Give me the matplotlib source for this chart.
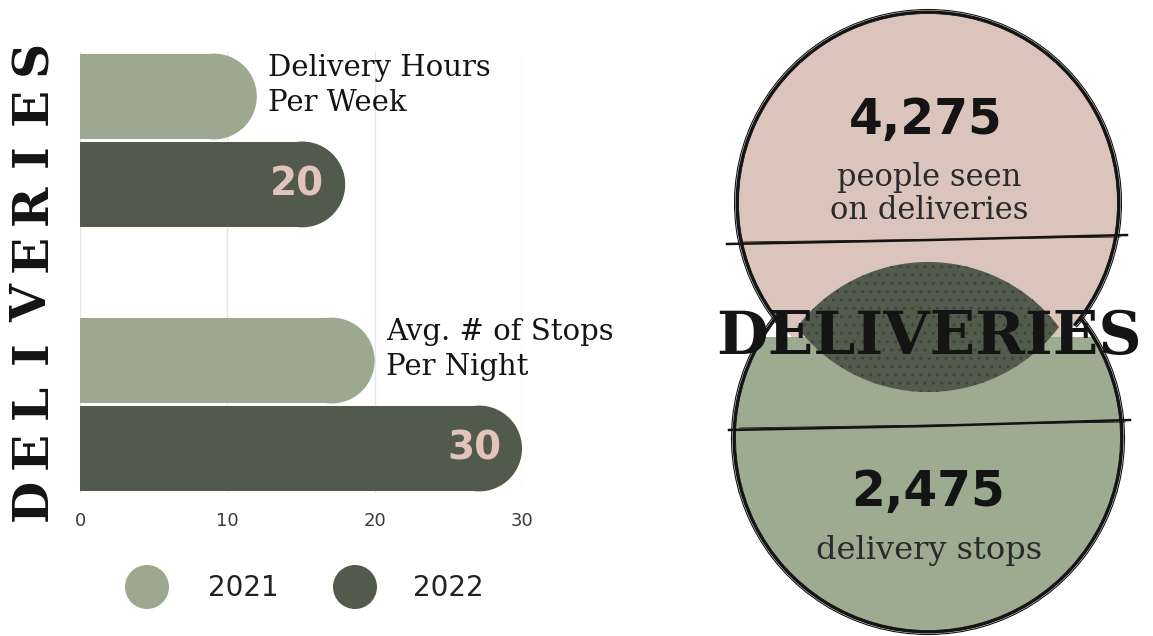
import numpy as np
import matplotlib.pyplot as plt
from matplotlib.patches import Ellipse, Circle, Arc, Rectangle

# ----- data -----
metrics = ['Delivery Hours\nPer Week', 'Avg. # of Stops\nPer Night']
years = ['2021', '2022']
values_2021 = [12, 20]
values_2022 = [18, 30]
labels_2022 = ['20', '30']
x_ticks = [0, 10, 20, 30]

people_seen = '4,275'
people_text = 'people seen\non deliveries'
stops_count = '2,475'
stops_text = 'delivery stops'
title = 'DELIVERIES'

# ----- colours -----
light = '#9ca88f'
dark = '#525a4b'
pink = '#dbc4bb'
pink_txt = '#e3c4ba'
ink = '#141414'

W, H = 1153, 636
fig = plt.figure(figsize=(W / 100, H / 100), dpi=100)

# overlay axes in pixel coordinates (y down) for the decorations
ov = fig.add_axes([0, 0, 1, 1])
ov.set_xlim(0, W)
ov.set_ylim(H, 0)
ov.axis('off')

# ----- bar chart -----
ax = fig.add_axes([80 / W, 1 - 493 / H, 442 / W, 441 / H])
ax.set_xlim(0, 30)
ax.set_ylim(1.335, -0.335)

h = 0.325
off = 0.1665
px_x = 442 / 30
px_y = 441 / 1.67
rx = (h * px_y / 2) / px_x   # radius of the rounded end, in x units

for i, metric in enumerate(metrics):
    for v, yy, c in [(values_2021[i], i - off, light), (values_2022[i], i + off, dark)]:
        ax.barh(yy, v - rx, height=h, color=c, lw=0, zorder=2)
        ax.add_patch(Ellipse((v - rx, yy), 2 * rx, h, facecolor=c, lw=0, zorder=2))
    ax.annotate(labels_2022[i], xy=(values_2022[i], i + off), xytext=(-15, 0),
                textcoords='offset points', ha='right', va='center',
                fontsize=28, fontweight='bold', color=pink_txt, family='DejaVu Sans', zorder=3)
    ax.annotate(metric, xy=(values_2021[i], i - off - h / 2), xytext=(8, 0),
                textcoords='offset points', ha='left', va='top',
                fontsize=21, family='DejaVu Serif', color=ink, linespacing=1.35)

ax.set_xticks(x_ticks)
ax.set_yticks([])
ax.grid(axis='x', color='#e6e6e6', lw=1, zorder=0)
ax.set_axisbelow(True)
ax.tick_params(axis='x', length=0, pad=14, labelsize=13, labelcolor='#3a3a3a')
for s in ax.spines.values():
    s.set_visible(False)
ax.patch.set_alpha(0)

# vertical title, letter by letter
letters = list(title)
ys = np.linspace(500, 57, len(letters))
for ch, yy in zip(letters, ys):
    ov.text(33, yy, ch, rotation=90, ha='center', va='center', fontsize=35,
            fontweight='bold', family='DejaVu Serif', color=ink)

# legend
for xc, xt, c, yr in [(147, 208, light, years[0]), (355, 413, dark, years[1])]:
    ov.add_patch(Circle((xc, 587), 22, facecolor=c, lw=0))
    ov.text(xt, 588, yr, ha='left', va='center', fontsize=20, color='#222222',
            family='DejaVu Sans')

# ----- right side graphic -----
top_c, r_top = (928, 203), 191
bot_c, r_bot = (928, 438), 194
split_y = 337

top = Circle(top_c, r_top, facecolor=pink, lw=0, zorder=1)
ov.add_patch(top)
bot = Circle(bot_c, r_bot, facecolor='#9dab91', lw=0, zorder=2)
ov.add_patch(bot)
clip = Rectangle((0, split_y), W, H, transform=ov.transData)
bot.set_clip_path(clip)

# dotted lens in the middle
lx = np.linspace(-131, 131, 200)
R, d, cy = 164.5, 99.5, 327
y_up = cy + d - np.sqrt(R ** 2 - lx ** 2)
y_lo = cy - d + np.sqrt(R ** 2 - lx ** 2)
ov.fill(np.r_[928 + lx, 928 + lx[::-1]], np.r_[y_up, y_lo[::-1]],
        facecolor='#535b4c', edgecolor='#40463b', hatch='..', lw=0, zorder=3)

# sketchy outlines
for dr, lw in [(0, 2.2), (2.5, 0.8), (-1.5, 0.6)]:
    ov.add_patch(Arc(top_c, 2 * (r_top + dr), 2 * (r_top + dr), theta1=140, theta2=40,
                     color=ink, lw=lw, zorder=4))
    ov.add_patch(Arc(bot_c, 2 * (r_bot + dr), 2 * (r_bot + dr), theta1=322, theta2=218,
                     color=ink, lw=lw, zorder=4))
ov.plot([727, 930, 1127], [244, 240, 235], color=ink, lw=1.8, zorder=4)
ov.plot([740, 1120], [242, 237], color=ink, lw=0.6, zorder=4)
ov.plot([729, 930, 1130], [430, 426, 420], color=ink, lw=1.8, zorder=4)
ov.plot([740, 1125], [428, 422], color=ink, lw=0.6, zorder=4)

# texts
ov.text(926, 120, people_seen, ha='center', va='center', fontsize=35,
        fontweight='bold', family='DejaVu Sans', color=ink, zorder=5)
ov.text(929, 194, people_text, ha='center', va='center', fontsize=22,
        family='DejaVu Serif', color='#2a2a2a', linespacing=1.05, zorder=5)
ov.text(929, 337, title, ha='center', va='center', fontsize=43,
        fontweight='bold', family='DejaVu Serif', color=ink, zorder=5)
ov.text(928, 492, stops_count, ha='center', va='center', fontsize=35,
        fontweight='bold', family='DejaVu Sans', color=ink, zorder=5)
ov.text(929, 550, stops_text, ha='center', va='center', fontsize=23,
        family='DejaVu Serif', color='#2a2a2a', zorder=5)

fig.savefig('out.png', dpi=100)
